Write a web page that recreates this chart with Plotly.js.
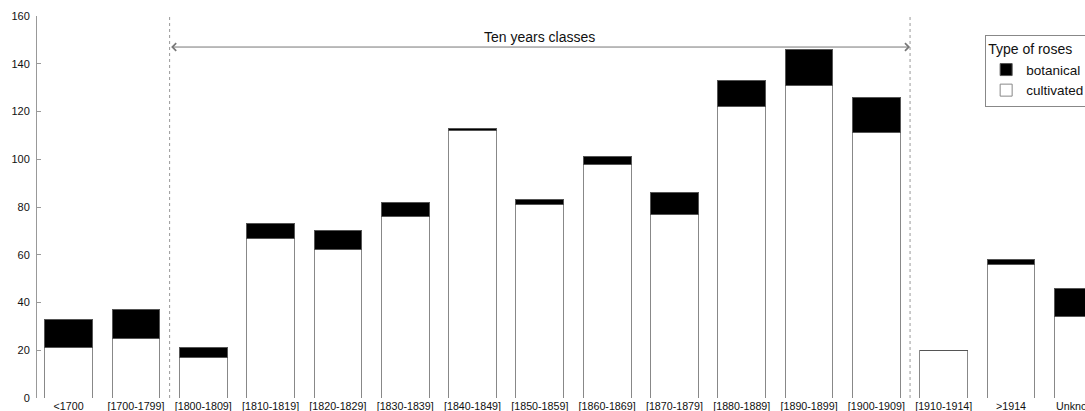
<!DOCTYPE html>
<html>
<head>
<meta charset="utf-8">
<script src="https://cdn.plot.ly/plotly-3.0.1.min.js"></script>
<style>
html, body { margin: 0; padding: 0; overflow: hidden; background: #fff; width: 1085px; height: 411px; }
#chart { width: 1200px; height: 411px; }
</style>
</head>
<body>
<div id="chart"></div>
<script>
const categories = ['<1700','[1700-1799]','[1800-1809]','[1810-1819]','[1820-1829]','[1830-1839]','[1840-1849]','[1850-1859]','[1860-1869]','[1870-1879]','[1880-1889]','[1890-1899]','[1900-1909]','[1910-1914]','>1914','Unknown'];
const cultivated = [21,25,17,67,62,76,112,81,98,77,122,131,111,20,56,34];
const botanical = [12,12,4,6,8,6,1,2,3,9,11,15,15,0,2,12];
const classStart = 1.5;
const classEnd = 12.5;
const classLabel = 'Ten years classes';
const arrowLevel = 147;

const font = '"Liberation Sans", Arial, Helvetica, sans-serif';

const traces = [
  {
    type: 'bar', name: 'cultivated', x: categories, y: cultivated,
    marker: { color: '#ffffff', line: { color: '#888888', width: 1 } },
    hoverinfo: 'x+y+name'
  },
  {
    type: 'bar', name: 'botanical', x: categories, y: botanical,
    marker: { color: '#000000', line: { color: '#555555', width: 1 } },
    hoverinfo: 'x+y+name'
  }
];

const layout = {
  width: 1200, height: 411,
  margin: { l: 37, r: 88, t: 16, b: 13 },
  paper_bgcolor: '#ffffff', plot_bgcolor: '#ffffff',
  font: { family: font, color: '#111111', size: 11 },
  barmode: 'stack',
  bargap: 0.29,
  showlegend: true,
  legend: {
    x: 0.882, xanchor: 'left', y: 0.95, yanchor: 'top',
    bordercolor: '#888888', borderwidth: 1, bgcolor: '#ffffff',
    traceorder: 'reversed',
    title: { text: 'Type of roses', font: { size: 14, family: font, color: '#111' } },
    font: { size: 13.5, family: font, color: '#111' }
  },
  xaxis: {
    type: 'category',
    range: [-0.47, 15.5],
    showline: false, ticks: '', showgrid: false, zeroline: false,
    tickfont: { size: 10.7, family: font, color: '#111' },
    tickangle: 0,
    automargin: false
  },
  yaxis: {
    range: [0, 160], dtick: 20,
    showline: true, linecolor: '#999999', linewidth: 1,
    ticks: 'inside', ticklen: 4, tickcolor: '#999999', tickwidth: 1,
    showgrid: false, zeroline: false,
    tickfont: { size: 11, family: font, color: '#111' },
    ticklabelstandoff: 4,
    automargin: false
  },
  shapes: [
    { type: 'line', xref: 'x', yref: 'y', x0: classStart, x1: classStart, y0: 0, y1: 160,
      line: { color: '#999999', width: 1, dash: 'dot' } },
    { type: 'line', xref: 'x', yref: 'y', x0: classEnd, x1: classEnd, y0: 0, y1: 160,
      line: { color: '#999999', width: 1, dash: 'dot' } }
  ],
  annotations: [
    { xref: 'x', yref: 'y', x: classEnd, y: arrowLevel, axref: 'x', ayref: 'y', ax: classStart, ay: arrowLevel,
      text: '', showarrow: true, arrowside: 'end+start', arrowhead: 4, startarrowhead: 4,
      arrowsize: 1.5, startarrowsize: 1.5, arrowwidth: 1, arrowcolor: '#777777', standoff: 0, startstandoff: 0 },
    { xref: 'x', yref: 'y', x: (classStart + classEnd) / 2, y: arrowLevel, yanchor: 'bottom', yshift: 0,
      text: classLabel, showarrow: false, font: { size: 14, family: font, color: '#111' } }
  ]
};

Plotly.newPlot('chart', traces, layout, { displayModeBar: false, staticPlot: true });
</script>
</body>
</html>
